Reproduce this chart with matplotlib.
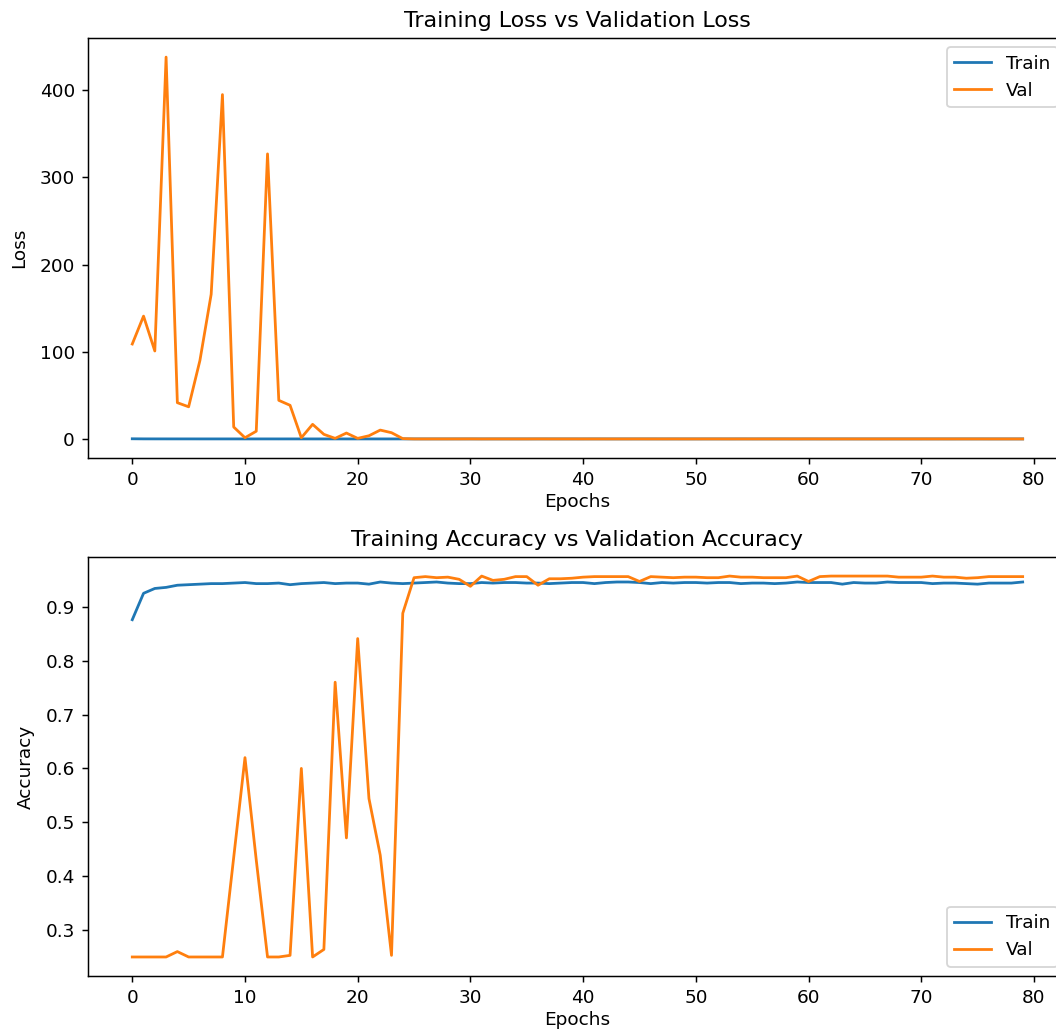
import matplotlib
matplotlib.use('Agg')
from matplotlib import pyplot as plt
import numpy as np

# per-epoch history of the training run (80 epochs)

train_loss = [0.32, 0.22, 0.20, 0.19, 0.18, 0.18, 0.17, 0.17, 0.17, 0.17,
              0.16, 0.17, 0.17, 0.16, 0.17, 0.17, 0.16, 0.16, 0.17, 0.16,
              0.16, 0.17, 0.16, 0.16, 0.17, 0.16, 0.16, 0.16, 0.16, 0.17,
              0.17, 0.16, 0.16, 0.16, 0.16, 0.16, 0.16, 0.17, 0.16, 0.16,
              0.16, 0.17, 0.16, 0.16, 0.16, 0.16, 0.17, 0.16, 0.16, 0.16,
              0.16, 0.16, 0.16, 0.16, 0.17, 0.16, 0.16, 0.17, 0.16, 0.16,
              0.16, 0.16, 0.16, 0.17, 0.16, 0.16, 0.16, 0.16, 0.16, 0.16,
              0.16, 0.17, 0.16, 0.16, 0.17, 0.17, 0.16, 0.16, 0.16, 0.16]

val_loss = [109, 141, 101, 438, 41.7, 37, 90, 166, 395, 13.8,
            1.5, 9, 327, 44.4, 38.7, 1.5, 16.9, 5.4, 0.8, 6.9,
            0.8, 3.8, 10.3, 7.3, 0.5, 0.15, 0.14, 0.15, 0.15, 0.16,
            0.19, 0.13, 0.16, 0.15, 0.14, 0.14, 0.18, 0.15, 0.15, 0.15,
            0.14, 0.14, 0.14, 0.14, 0.14, 0.16, 0.14, 0.14, 0.15, 0.14,
            0.14, 0.15, 0.15, 0.13, 0.14, 0.14, 0.15, 0.15, 0.15, 0.13,
            0.16, 0.14, 0.13, 0.13, 0.13, 0.13, 0.13, 0.13, 0.14, 0.14,
            0.14, 0.13, 0.14, 0.14, 0.15, 0.14, 0.13, 0.13, 0.13, 0.13]

train_acc = [0.876, 0.925, 0.934, 0.936, 0.940, 0.941, 0.942, 0.943, 0.943, 0.944,
             0.945, 0.943, 0.943, 0.944, 0.941, 0.943, 0.944, 0.945, 0.943, 0.944,
             0.944, 0.942, 0.946, 0.944, 0.943, 0.944, 0.945, 0.946, 0.944, 0.943,
             0.943, 0.945, 0.944, 0.945, 0.945, 0.944, 0.944, 0.943, 0.944, 0.945,
             0.945, 0.943, 0.945, 0.946, 0.946, 0.945, 0.943, 0.945, 0.944, 0.945,
             0.945, 0.944, 0.945, 0.945, 0.943, 0.944, 0.944, 0.943, 0.944, 0.946,
             0.945, 0.945, 0.945, 0.942, 0.945, 0.944, 0.944, 0.946, 0.945, 0.945,
             0.945, 0.943, 0.944, 0.944, 0.943, 0.942, 0.944, 0.944, 0.944, 0.946]

val_acc = [0.250, 0.250, 0.250, 0.250, 0.260, 0.250, 0.250, 0.250, 0.250, 0.435,
           0.620, 0.430, 0.250, 0.250, 0.253, 0.600, 0.250, 0.264, 0.760, 0.471,
           0.841, 0.544, 0.439, 0.253, 0.888, 0.954, 0.956, 0.954, 0.955, 0.951,
           0.938, 0.957, 0.949, 0.951, 0.956, 0.956, 0.940, 0.952, 0.952, 0.953,
           0.955, 0.956, 0.956, 0.956, 0.956, 0.947, 0.956, 0.955, 0.954, 0.955,
           0.955, 0.954, 0.954, 0.957, 0.955, 0.955, 0.954, 0.954, 0.954, 0.957,
           0.947, 0.956, 0.957, 0.957, 0.957, 0.957, 0.957, 0.957, 0.955, 0.955,
           0.955, 0.957, 0.955, 0.955, 0.953, 0.954, 0.956, 0.956, 0.956, 0.956]

epochs = np.arange(len(val_acc))

fig = plt.figure(figsize=(1056 / 133, 1030 / 133), dpi=133)

# both panels run a little past the right edge of the canvas
ax1 = fig.add_axes([0.0831, 0.5553, 0.9275, 0.4078])
ax1.plot(epochs, train_loss, label='Train')
ax1.plot(epochs, val_loss, label='Val')
ax1.set_title('Training Loss vs Validation Loss')
ax1.set_xlabel('Epochs', labelpad=2)
ax1.set_ylabel('Loss', labelpad=6)
ax1.legend(loc='upper right')

ax2 = fig.add_axes([0.0831, 0.0524, 0.9275, 0.4068])
ax2.plot(epochs, train_acc, label='Train')
ax2.plot(epochs, val_acc, label='Val')
ax2.set_title('Training Accuracy vs Validation Accuracy')
ax2.set_xlabel('Epochs', labelpad=2)
ax2.set_ylabel('Accuracy', labelpad=6)
ax2.legend(loc='lower right')

fig.savefig('out.png', dpi=133)
